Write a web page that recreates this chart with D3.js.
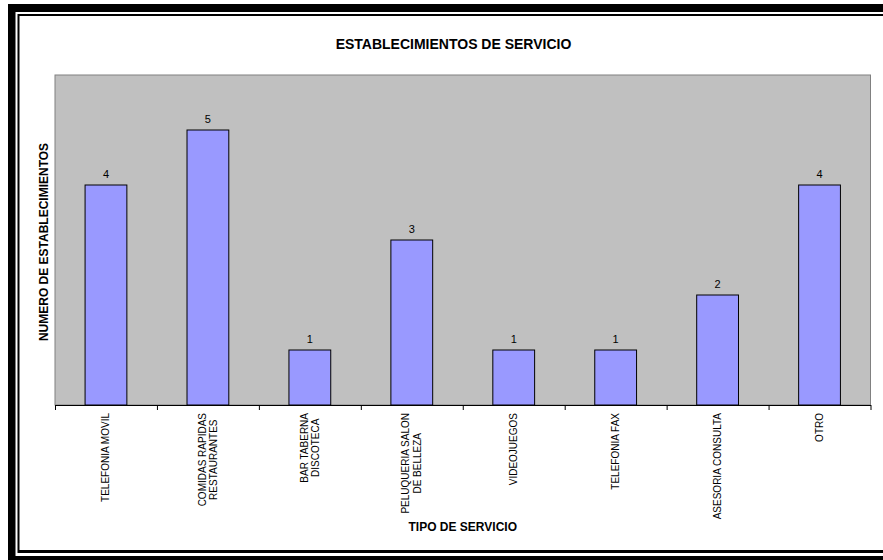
<!DOCTYPE html>
<html>
<head>
<meta charset="utf-8">
<script src="https://cdn.jsdelivr.net/npm/d3@7"></script>
<style>
html,body{margin:0;padding:0;background:#fff;overflow:hidden;}
svg{display:block;font-family:"Liberation Sans",Arial,sans-serif;}
</style>
</head>
<body>
<svg id="chart" width="883" height="560"></svg>
<script>
const categories = [
  ["TELEFONIA MOVIL"],
  ["COMIDAS RAPIDAS", "RESTAURANTES"],
  ["BAR TABERNA", "DISCOTECA"],
  ["PELUQUERIA SALON", "DE BELLEZA"],
  ["VIDEOJUEGOS"],
  ["TELEFONIA FAX"],
  ["ASESORIA CONSULTA"],
  ["OTRO"]
];
const values = [4, 5, 1, 3, 1, 1, 2, 4];
const yDomain = [0, 6];
const titleText = "ESTABLECIMIENTOS DE SERVICIO";
const xTitle = "TIPO DE SERVICIO";
const yTitle = "NUMERO DE ESTABLECIMIENTOS";

const svg = d3.select("#chart");

// Frame (double border)
svg.append("rect").attr("x", 8).attr("y", 4).attr("width", 900).attr("height", 600).attr("fill", "#000");
svg.append("rect").attr("x", 15.5).attr("y", 12).attr("width", 900).attr("height", 544).attr("fill", "#fff");
svg.append("rect").attr("x", 17.5).attr("y", 14).attr("width", 900).attr("height", 539).attr("fill", "#000");
svg.append("rect").attr("x", 19.5).attr("y", 16).attr("width", 900).attr("height", 534).attr("fill", "#fff");

const plot = {left: 55, top: 75, right: 870.5, bottom: 405};

const x = d3.scaleBand().domain(d3.range(categories.length)).range([plot.left, plot.right]).padding(0);
const xEdge = d3.scaleLinear().domain([0, categories.length]).range([plot.left, plot.right]);
const y = d3.scaleLinear().domain(yDomain).range([plot.bottom, plot.top]);

// Plot area
svg.append("rect")
  .attr("x", plot.left).attr("y", plot.top)
  .attr("width", plot.right - plot.left).attr("height", plot.bottom - plot.top)
  .attr("fill", "#C0C0C0").attr("stroke", "#808080").attr("stroke-width", 1);

// Bars
const barW = x.bandwidth() * 0.41;
svg.append("g").selectAll("rect").data(values).join("rect")
  .attr("x", (d, i) => x(i) + (x.bandwidth() - barW) / 2)
  .attr("y", d => y(d))
  .attr("width", barW)
  .attr("height", d => y(0) - y(d))
  .attr("fill", "#9999FF").attr("stroke", "#000").attr("stroke-width", 1);

// Value labels
svg.append("g").selectAll("text").data(values).join("text")
  .attr("x", (d, i) => x(i) + x.bandwidth() / 2)
  .attr("y", d => y(d) - 7)
  .attr("text-anchor", "middle")
  .attr("font-size", "11px")
  .attr("fill", "#000")
  .text(d => d);

// X axis
const xAxis = svg.append("g")
  .attr("transform", `translate(0,${plot.bottom})`)
  .call(d3.axisBottom(xEdge).tickValues(d3.range(categories.length + 1)).tickFormat("").tickSize(5).tickSizeOuter(0));
xAxis.select(".domain").attr("stroke", "#000");
xAxis.selectAll(".tick line").attr("stroke", "#000");

// Category labels (rotated, top aligned, lines centered)
const labelTop = 413;
const lineGap = 11.6;
categories.forEach((lines, i) => {
  const g = svg.append("g")
    .attr("transform", `translate(${x(i) + x.bandwidth() / 2},${labelTop}) rotate(-90)`);
  const texts = lines.map((ln, j) => g.append("text")
    .attr("font-size", "10px")
    .attr("fill", "#000")
    .attr("text-anchor", "middle")
    .attr("dominant-baseline", "central")
    .attr("y", (j - (lines.length - 1) / 2) * lineGap)
    .text(ln));
  const maxW = d3.max(texts, t => t.node().getComputedTextLength());
  texts.forEach(t => t.attr("x", -maxW / 2));
});

// Titles
svg.append("text")
  .attr("x", 453.5).attr("y", 43.5)
  .attr("text-anchor", "middle").attr("dominant-baseline", "central")
  .attr("font-size", "14px").attr("font-weight", "bold")
  .text(titleText);

svg.append("text")
  .attr("x", (plot.left + plot.right) / 2).attr("y", 527)
  .attr("text-anchor", "middle").attr("dominant-baseline", "central")
  .attr("font-size", "12px").attr("font-weight", "bold")
  .text(xTitle);

svg.append("text")
  .attr("transform", `translate(44,${(plot.top + plot.bottom) / 2 + 2}) rotate(-90)`)
  .attr("text-anchor", "middle").attr("dominant-baseline", "central")
  .attr("font-size", "12px").attr("font-weight", "bold")
  .text(yTitle);
</script>
</body>
</html>
